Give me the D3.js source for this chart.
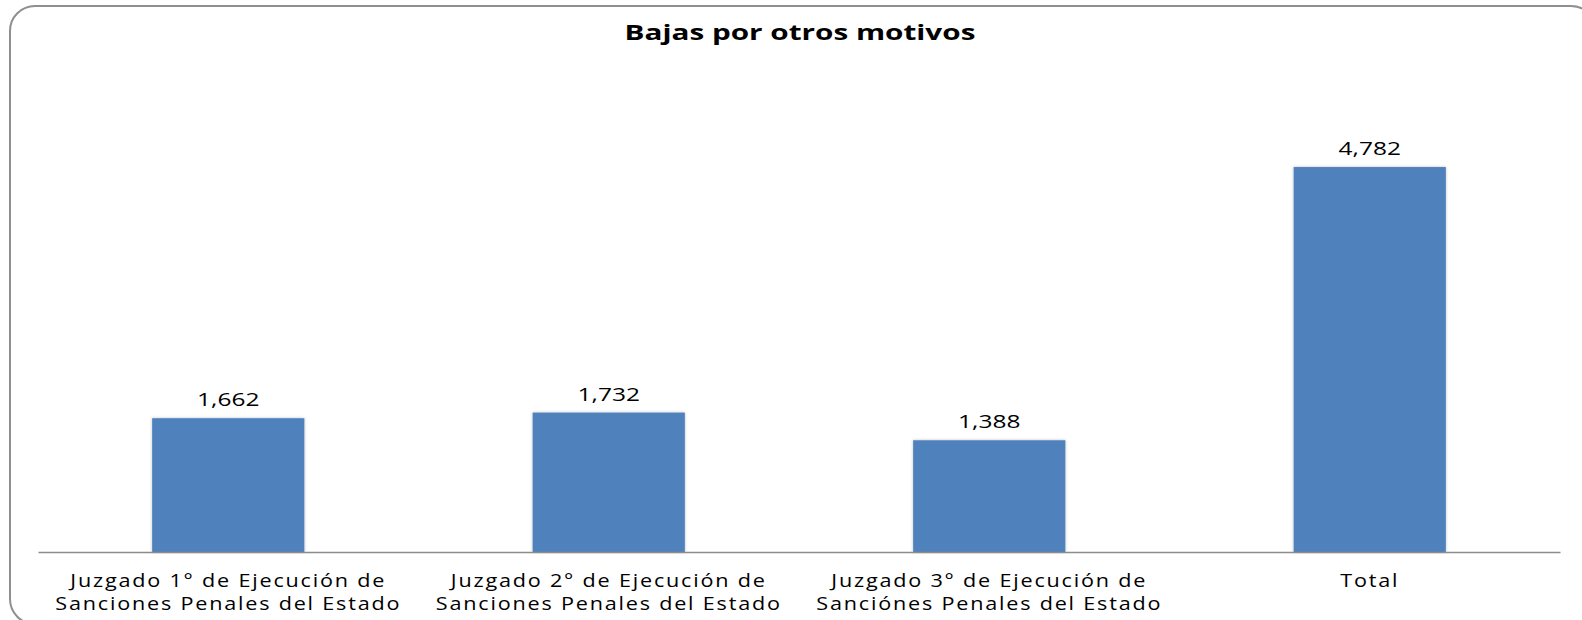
<!DOCTYPE html>
<html>
<head>
<meta charset="utf-8">
<script src="https://cdn.jsdelivr.net/npm/d3@7"></script>
<style>
  body { margin: 0; background: #fff; }
  svg { display: block; }
  text { font-family: "Open Sans", "Noto Sans", sans-serif; fill: #000; }
</style>
</head>
<body>
<svg width="1582" height="620"></svg>
<script>
// data
var categories = [
  ["Juzgado 1° de Ejecución de", "Sanciones Penales del Estado"],
  ["Juzgado 2° de Ejecución de", "Sanciones Penales del Estado"],
  ["Juzgado 3° de Ejecución de", "Sanciónes Penales del Estado"],
  ["Total"]
];
var values = [1662, 1732, 1388, 4782];
var title = "Bajas por otros motivos";

var svg = d3.select("svg"),
    width = +svg.attr("width"),
    height = +svg.attr("height");

var margin = {left: 38, right: 22, top: 69, bottom: 68};

// shadow for bars
var defs = svg.append("defs");
var f = defs.append("filter").attr("id", "shadow")
    .attr("x", "-10%").attr("y", "-5%").attr("width", "120%").attr("height", "110%");
f.append("feDropShadow").attr("dx", 0).attr("dy", 0).attr("stdDeviation", 1.5)
    .attr("flood-color", "#000").attr("flood-opacity", 0.25);

// frame (right and bottom edges run off the picture)
svg.append("rect")
    .attr("x", 10).attr("y", 6)
    .attr("width", 1586).attr("height", 618)
    .attr("rx", 25).attr("ry", 25)
    .attr("fill", "#fff").attr("stroke", "#8f8f8f").attr("stroke-width", 2);

var x = d3.scaleBand()
    .domain(d3.range(categories.length))
    .range([margin.left, width - margin.right])
    .paddingInner(0.6)
    .paddingOuter(0.3);

var y = d3.scaleLinear()
    .domain([0, 6000])
    .range([height - margin.bottom, margin.top]);

// bars
svg.append("g").selectAll("rect")
    .data(values)
    .enter().append("rect")
      .attr("x", function(d, i) { return x(i); })
      .attr("y", function(d) { return y(d); })
      .attr("width", x.bandwidth())
      .attr("height", function(d) { return y(0) - y(d); })
      .attr("fill", "#4f81bd")
      .attr("filter", "url(#shadow)");

// axis line
var xAxis = d3.axisBottom(x).tickSize(0).tickFormat("");
var ax = svg.append("g")
    .attr("transform", "translate(0," + y(0) + ")")
    .call(xAxis);
ax.select(".domain").attr("stroke", "#8c8c8c").attr("stroke-width", 1.5);

// the original text is stretched sideways, so scale it a bit
var fmt = d3.format(",");
svg.append("g").selectAll("text")
    .data(values)
    .enter().append("text")
      .attr("transform", function(d, i) {
        return "translate(" + (x(i) + x.bandwidth() / 2) + "," + (y(d) - 12) + ") scale(1.36,1)";
      })
      .attr("text-anchor", "middle")
      .style("font-size", "18px")
      .text(function(d) { return fmt(d); });

// category labels
var cat = svg.append("g").selectAll("text")
    .data(categories)
    .enter().append("text")
      .attr("text-anchor", "middle")
      .style("font-size", "18px")
      .style("letter-spacing", "1.5px")
      .attr("transform", function(d, i) {
        return "translate(" + (x(i) + x.bandwidth() / 2) + ",0) scale(1.2,1)";
      });
cat.selectAll("tspan")
    .data(function(d) { return d; })
    .enter().append("tspan")
      .attr("x", 0)
      .attr("y", function(d, j) { return 587 + j * 23; })
      .text(function(d) { return d; });

// title
svg.append("text")
    .attr("transform", "translate(800,40) scale(1.35,1)")
    .attr("text-anchor", "middle")
    .style("font-size", "22px")
    .style("font-weight", "bold")
    .text(title);
</script>
</body>
</html>
